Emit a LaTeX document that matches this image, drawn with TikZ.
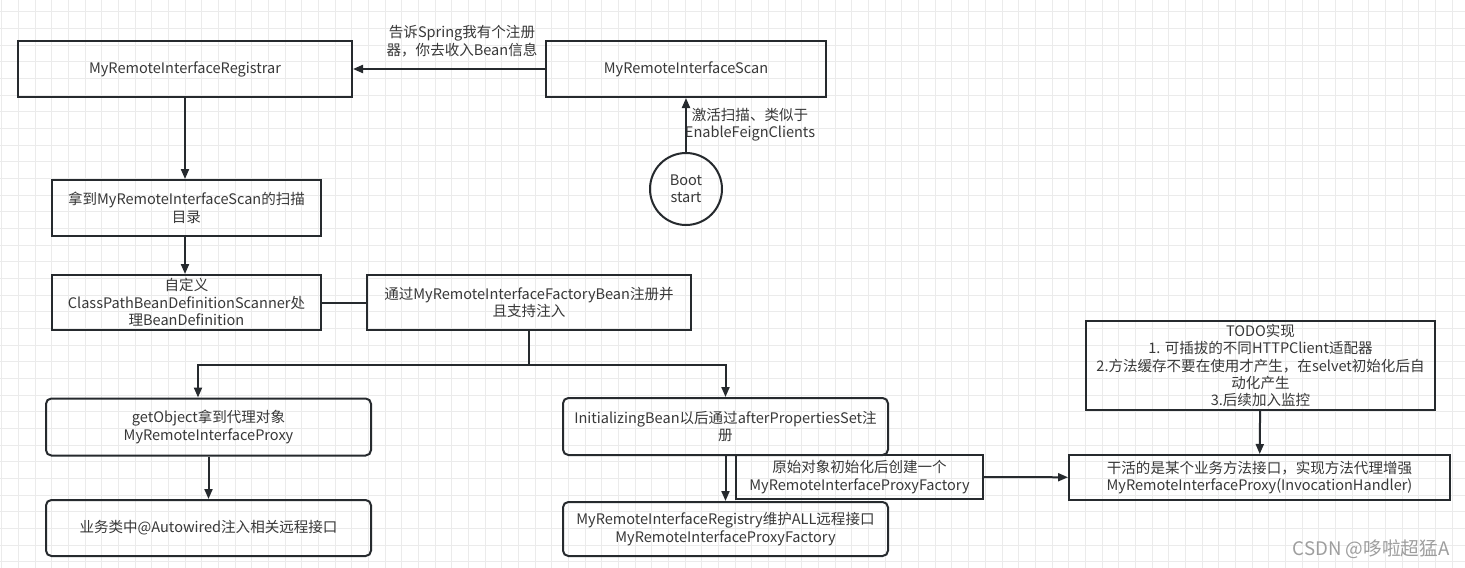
\documentclass[tikz,border=0pt]{standalone}
\usepackage{fontspec}
\setmainfont{Noto Sans CJK SC}
\usetikzlibrary{arrows.meta,calc}
\definecolor{edgeclr}{HTML}{262A2E}
\definecolor{txtclr}{HTML}{383838}
\definecolor{gridclr}{HTML}{EBEBEB}
\tikzset{box/.style={draw=edgeclr,line width=1.5pt,align=center,text=txtclr,font=\fontsize{10.9}{13}\selectfont,inner sep=2pt},
  rbox/.style={box,rounded corners=4pt},
  arr/.style={-{Triangle[length=7.5pt,width=6pt]},line width=1.5pt,draw=edgeclr},
  lbl/.style={align=center,text=txtclr,font=\fontsize{10.9}{13}\selectfont},
  gridline/.style={draw=gridclr,line width=0.6pt}}

\begin{document}
\begin{tikzpicture}[x=0.75pt,y=-0.75pt]
\useasboundingbox (0,0) rectangle (1465,568);
\fill[white] (0,0) rectangle (1465,568);
\foreach \gx in {1.7,18.37,...,1465} \draw[gridline] (\gx,0) -- (\gx,568);
\foreach \gy in {11.7,28.37,...,568} \draw[gridline] (0,\gy) -- (1465,\gy);
\node[box,minimum width=250.5pt,minimum height=42pt] (reg) at (185,69) {MyRemoteInterfaceRegistrar};
\node[box,minimum width=210pt,minimum height=42pt] (scan) at (686,69) {MyRemoteInterfaceScan};
\node[box,circle,minimum size=54pt] (boot) at (686,189) {Boot\\start};
\node[box,minimum width=201.75pt,minimum height=42pt] (scandir) at (186.5,208) {拿到MyRemoteInterfaceScan的扫描\\目录};
\node[box,minimum width=201.75pt,minimum height=41.25pt] (scanner) at (186.5,302.5) {自定义\\ClassPathBeanDefinitionScanner处\\理BeanDefinition};
\node[box,minimum width=243pt,minimum height=41.25pt] (factorybean) at (529,302.5) {通过MyRemoteInterfaceFactoryBean注册并\\且支持注入};
\node[rbox,minimum width=243.75pt,minimum height=42.75pt] (getobj) at (208.5,427) {getObject拿到代理对象\\MyRemoteInterfaceProxy};
\node[rbox,minimum width=243.75pt,minimum height=42pt] (autowired) at (208.5,528) {业务类中@Autowired注入相关远程接口};
\node[rbox,minimum width=243.75pt,minimum height=42.75pt] (initbean) at (725.5,426.5) {InitializingBean以后通过afterPropertiesSet注\\册};
\node[rbox,minimum width=243.75pt,minimum height=40.5pt] (registry) at (725.5,529) {MyRemoteInterfaceRegistry维护ALL远程接口\\MyRemoteInterfaceProxyFactory};
\node[box,minimum width=185.25pt,minimum height=33pt] (createfac) at (859.5,477) {原始对象初始化后创建一个\\MyRemoteInterfaceProxyFactory};
\node[box,minimum width=285.75pt,minimum height=33.75pt] (proxy) at (1259.5,477.5) {干活的是某个业务方法接口，实现方法代理增强\\MyRemoteInterfaceProxy(InvocationHandler)};
\node[box,minimum width=261.75pt,minimum height=66pt] (todo) at (1260.5,365.5) {TODO实现\\1. 可插拔的不同HTTPClient适配器\\2.方法缓存不要在使用才产生，在selvet初始化后自\\动化产生\\3.后续加入监控};
\node[lbl] (telltxt) at (462,41) {告诉Spring我有个注册\\器，你去收入Bean信息};
\node[lbl] (bootxt) at (750,125) {激活扫描、类似于\\EnableFeignClients};
\node[text=black!38,font=\fontsize{14}{16}\selectfont] (csdn) at (1371,549) {CSDN @哆啦超猛A};
\draw[arr] (scan) -- (reg);
\draw[arr] (boot) -- (scan);
\draw[arr] (reg.south) -- (reg.south |- scandir.north);
\draw[arr] (scandir.south -| reg.south) -- (scanner.north -| reg.south);
\draw[line width=1.5pt,draw=edgeclr] (scanner) -- (factorybean);
\draw[arr] (factorybean.south) -- ++(0,34) -| ($(getobj.north)+(-10.5,0)$);
\draw[arr] (factorybean.south) -- ++(0,34) -| (initbean.north);
\draw[arr] (getobj) -- (autowired);
\draw[arr] (initbean) -- (registry);
\draw[arr] (createfac) -- (proxy);
\draw[arr] (todo) -- (proxy);
\end{tikzpicture}
\end{document}
